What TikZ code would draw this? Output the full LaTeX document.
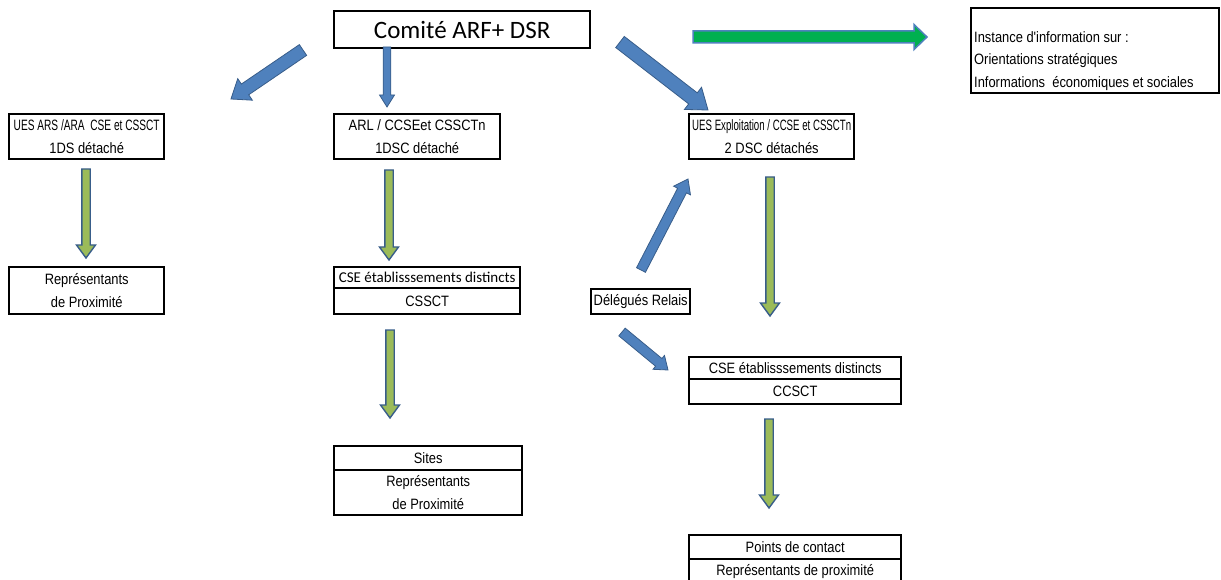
\documentclass[tikz,border=0pt]{standalone}
\usepackage{fontspec}
\usepackage{graphicx}
\usetikzlibrary{calc}
\newfontfamily\narrowfont[FakeStretch=0.86]{Liberation Sans}
\newfontfamily\carlitofont{Carlito}
\definecolor{arrblue}{RGB}{79,129,189}
\definecolor{arrblueedge}{RGB}{56,93,138}
\definecolor{arrgreen}{RGB}{0,176,80}
\definecolor{arrolive}{RGB}{155,187,89}
% squeeze a line of text to a given width
\newcommand\sqz[2]{\resizebox{#1}{\height}{#2}}
% block arrow: #1 style, #2 tail, #3 tip, #4 half shaft, #5 half head, #6 head length
\newcommand\blkarrow[6]{%
  \coordinate (hb) at ($(#3)!#6!(#2)$);
  \path[#1] ($(#2)!#4!90:(#3)$) -- ($(hb)!#4!90:(#3)$) -- ($(hb)!#5!90:(#3)$) -- (#3)
    -- ($(hb)!#5!-90:(#3)$) -- ($(hb)!#4!-90:(#3)$) -- ($(#2)!#4!-90:(#3)$) -- cycle;
}
\begin{document}
\begin{tikzpicture}[x=1pt,y=1pt,
  box/.style={draw=black, line width=2.4pt, fill=white, inner sep=0pt, anchor=north west,
    align=center, font=\narrowfont\fontsize{15}{23}\selectfont},
  cbox/.style={box, font=\carlitofont\fontsize{15}{18}\selectfont},
  titlebox/.style={box, font=\carlitofont\fontsize{25}{30}\selectfont},
  infotext/.style={anchor=north west, inner sep=0pt, align=left,
    font=\narrowfont\fontsize{15}{22.5}\selectfont},
  frame/.style={draw=black, line width=2.4pt},
  bluearrow/.style={fill=arrblue, draw=arrblueedge, line width=0.8pt},
  greenarrow/.style={fill=arrgreen, draw=arrblue, line width=1.5pt},
  olivearrow/.style={fill=arrolive, draw=arrblueedge, line width=1.4pt}]
\useasboundingbox (0,0) rectangle (1221,-580);

% boxes
\node[titlebox, minimum width=256pt, minimum height=37pt] (comite) at (333,-10) {Comité ARF+ DSR};
\draw[frame] (971,-8) rectangle (1219,-93);
\node[infotext] (info) at (974,-31) {Instance d'information sur :\\Orientations stratégiques\\Informations \ économiques et sociales};

\node[box, minimum width=155pt, minimum height=45pt] (ues) at (8,-113) {\sqz{146pt}{UES ARS /ARA \ CSE et CSSCT}\\1DS détaché};
\node[box, minimum width=166pt, minimum height=45pt] (arl) at (333,-113) {ARL / CCSEet CSSCTn\\1DSC détaché};
\node[box, minimum width=165pt, minimum height=45pt] (uesx) at (688,-113) {\sqz{159pt}{UES Exploitation / CCSE et CSSCTn}\\2 DSC détachés};

\node[box, minimum width=155pt, minimum height=47pt] (rep) at (8,-266) {Représentants\\de Proximité};
\node[cbox, minimum width=186pt, minimum height=21pt] (cseA) at (333,-266) {CSE établisssements distincts};
\node[box, minimum width=186pt, minimum height=26pt] (cssct) at (333,-287) {CSSCT};
\node[box, minimum width=99pt, minimum height=25pt] (del) at (590,-288) {Délégués Relais};

\node[box, minimum width=212pt, minimum height=22pt] (cseB) at (688,-356) {CSE établisssements distincts};
\node[box, minimum width=212pt, minimum height=25pt] (ccsct) at (688,-378) {CCSCT};

\node[box, minimum width=188pt, minimum height=24pt] (sites) at (333,-445) {Sites};
\node[box, minimum width=188pt, minimum height=45pt] (sitesrep) at (333,-469) {Représentants\\de Proximité};

\node[box, minimum width=212pt, minimum height=24pt] (points) at (688,-534) {Points de contact};
\node[box, minimum width=212pt, minimum height=25pt] (pointsrep) at (688,-558) {Représentants de proximité};

% arrow end points
\coordinate (a1s) at (303,-50);  \coordinate (a1e) at (231,-99);
\coordinate (a2s) at (387,-47);  \coordinate (a2e) at (387,-107);
\coordinate (a3s) at (620,-42);  \coordinate (a3e) at (708,-110);
\coordinate (a4s) at (693,-37);  \coordinate (a4e) at (927,-37);
\coordinate (g1s) at (86,-169);  \coordinate (g1e) at (86,-258);
\coordinate (g2s) at (389,-170); \coordinate (g2e) at (389,-260);
\coordinate (g3s) at (390,-330); \coordinate (g3e) at (390,-418);
\coordinate (g4s) at (770,-177); \coordinate (g4e) at (770,-316);
\coordinate (g5s) at (769,-419); \coordinate (g5e) at (769,-508);
\coordinate (d1s) at (641,-270); \coordinate (d1e) at (688,-179);
\coordinate (d2s) at (622,-332); \coordinate (d2e) at (668,-370);

\blkarrow{bluearrow}{a1s}{a1e}{6.5pt}{13pt}{17pt}
\blkarrow{bluearrow}{a2s}{a2e}{3.8pt}{7.5pt}{12pt}
\blkarrow{bluearrow}{a3s}{a3e}{7pt}{14pt}{19pt}
\blkarrow{greenarrow}{a4s}{a4e}{6pt}{12.5pt}{13pt}
\blkarrow{olivearrow}{g1s}{g1e}{4.2pt}{9.5pt}{13pt}
\blkarrow{olivearrow}{g2s}{g2e}{4.2pt}{9.5pt}{13pt}
\blkarrow{olivearrow}{g3s}{g3e}{4.2pt}{9.5pt}{13pt}
\blkarrow{olivearrow}{g4s}{g4e}{4.2pt}{9.5pt}{13pt}
\blkarrow{olivearrow}{g5s}{g5e}{4.2pt}{9.5pt}{13pt}
\blkarrow{bluearrow}{d1s}{d1e}{5pt}{9.5pt}{13pt}
\blkarrow{bluearrow}{d2s}{d2e}{5pt}{9pt}{12pt}
\end{tikzpicture}
\end{document}
